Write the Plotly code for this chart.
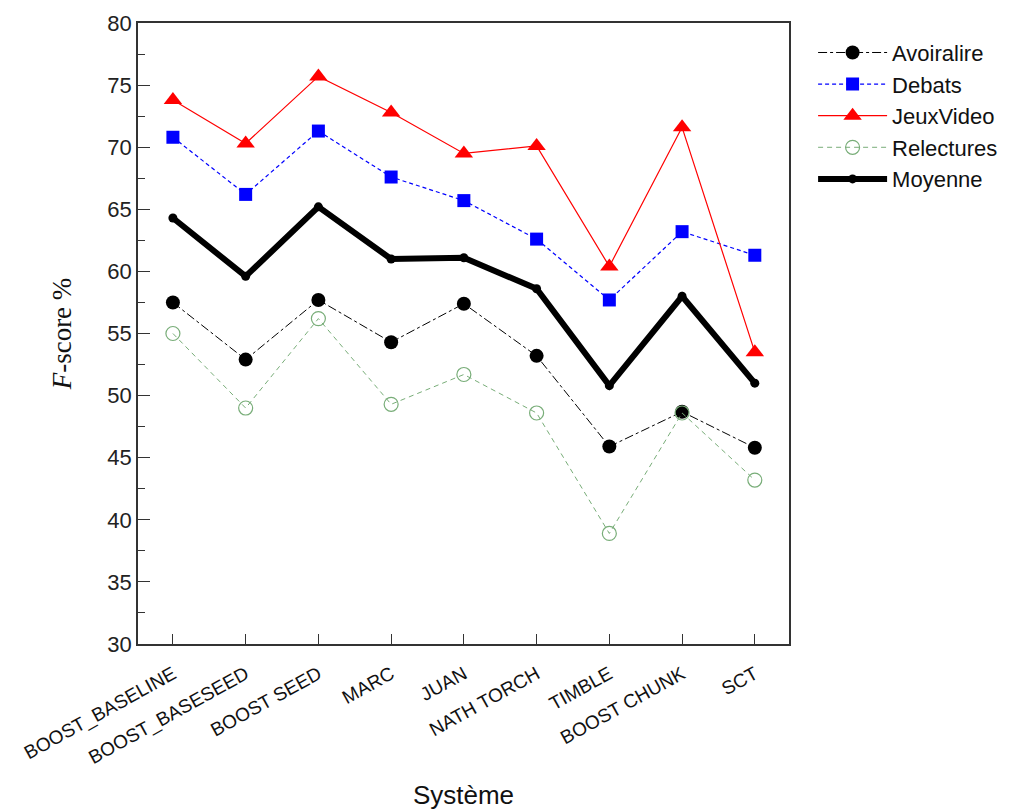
import plotly.graph_objects as go

categories = ["BOOST_BASELINE", "BOOST_BASESEED", "BOOST SEED", "MARC", "JUAN",
              "NATH TORCH", "TIMBLE", "BOOST CHUNK", "SCT"]
avoiralire = [57.5, 52.9, 57.7, 54.3, 57.4, 53.2, 45.9, 48.7, 45.8]
debats = [70.8, 66.2, 71.3, 67.6, 65.7, 62.6, 57.7, 63.2, 61.3]
jeuxvideo = [73.8, 70.3, 75.7, 72.8, 69.5, 70.1, 60.4, 71.6, 53.5]
relectures = [55.0, 49.0, 56.2, 49.3, 51.7, 48.6, 38.9, 48.6, 43.2]
moyenne = [64.3, 59.6, 65.2, 61.0, 61.1, 58.6, 50.8, 58.0, 51.0]
y_ticks = [30, 35, 40, 45, 50, 55, 60, 65, 70, 75, 80]

xs = list(range(len(categories)))

fig = go.Figure()
fig.add_trace(go.Scatter(x=xs, y=avoiralire, name="Avoiralire", mode="lines+markers",
                         line=dict(color="black", width=1, dash="dashdot"),
                         marker=dict(symbol="circle", size=14, color="black")))
fig.add_trace(go.Scatter(x=xs, y=debats, name="Debats", mode="lines+markers",
                         line=dict(color="blue", width=1.2, dash="4px,3px"),
                         marker=dict(symbol="square", size=13, color="blue")))
fig.add_trace(go.Scatter(x=xs, y=jeuxvideo, name="JeuxVideo", mode="lines+markers",
                         line=dict(color="red", width=1.2),
                         marker=dict(symbol="triangle-up", size=16, color="red")))
fig.add_trace(go.Scatter(x=xs, y=relectures, name="Relectures", mode="lines+markers",
                         line=dict(color="#78ad78", width=1, dash="5px,4px"),
                         marker=dict(symbol="circle-open", size=14, color="#78ad78",
                                     line=dict(width=1.2))))
fig.add_trace(go.Scatter(x=xs, y=moyenne, name="Moyenne", mode="lines+markers",
                         line=dict(color="black", width=6),
                         marker=dict(symbol="circle", size=9, color="black")))

fig.update_layout(
    width=1015, height=811,
    margin=dict(l=130, r=234, t=15, b=175, autoexpand=False),
    paper_bgcolor="white", plot_bgcolor="white",
    font=dict(family="Liberation Sans, Arial", color="#222"),
    showlegend=True,
    legend=dict(x=1.037, y=0.986, xanchor="left", yanchor="top",
                font=dict(size=22, color="#111"), tracegroupgap=0,
                itemwidth=69, bgcolor="rgba(0,0,0,0)"),
    xaxis=dict(
        range=[-0.48, 8.47], tickmode="array", tickvals=xs, ticktext=categories,
        tickangle=-29, tickfont=dict(size=19, color="#111"), ticklabelstandoff=10,
        ticks="inside", ticklen=10, tickcolor="#333", automargin=False,
        showline=True, linecolor="#333", linewidth=1.5, mirror=True,
        showgrid=False, zeroline=False,
        title=dict(text="Système", font=dict(size=26, color="#111"), standoff=18),
    ),
    yaxis=dict(
        range=[30, 80], tickmode="array", tickvals=y_ticks,
        tickfont=dict(size=22, color="#222"),
        ticks="inside", ticklen=12, tickcolor="#333", automargin=False,
        minor=dict(ticks="inside", ticklen=7, dtick=2.5, tickcolor="#333", showgrid=False),
        showline=True, linecolor="#333", linewidth=1.5, mirror=True,
        showgrid=False, zeroline=False,
        title=dict(text="<i>F</i>-score %", font=dict(family="Liberation Serif, Times New Roman",
                                                      size=27, color="#111"), standoff=28),
    ),
)

fig.write_html("out.html")
